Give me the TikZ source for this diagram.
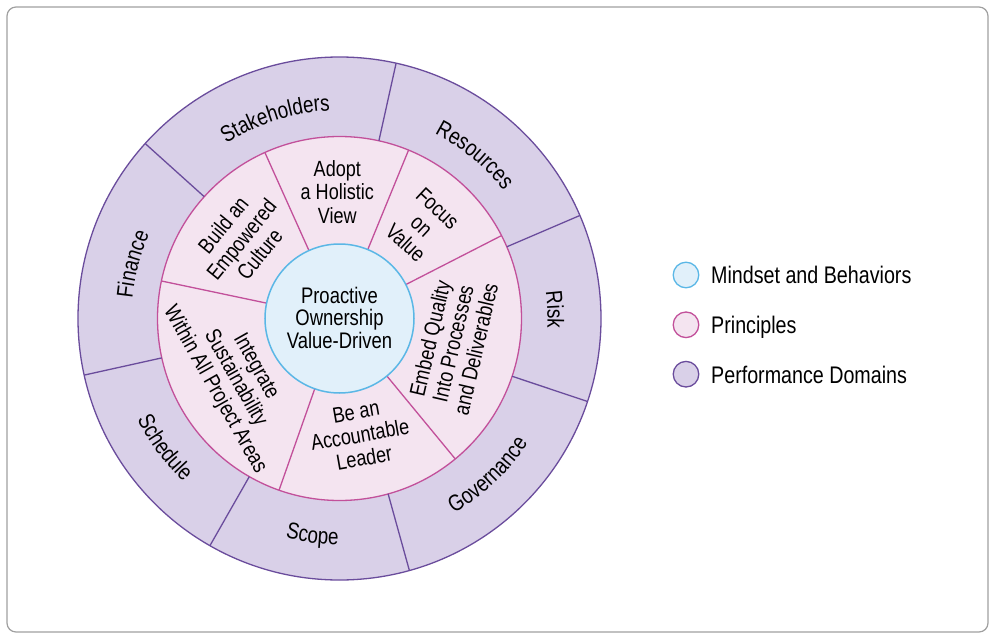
\documentclass[tikz,border=0pt]{standalone}
\usepackage{fontspec}
\setmainfont{Liberation Sans}[FakeStretch=0.82]
\usetikzlibrary{decorations.text}
\definecolor{pdfill}{HTML}{D9D0E8}
\definecolor{pdline}{HTML}{6A4C9C}
\definecolor{prfill}{HTML}{F4E4F0}
\definecolor{prline}{HTML}{C2509A}
\definecolor{mbfill}{HTML}{E1F0FA}
\definecolor{mbline}{HTML}{5AB7E6}
\definecolor{framegray}{HTML}{A0A0A0}
\newcommand\outerfont{\fontsize{23}{25}\selectfont}
\begin{document}
\begin{tikzpicture}[x=1pt,y=1pt,
  ptext/.style={align=center, font=\fontsize{22}{23.5}\selectfont, inner sep=0pt},
  ctext/.style={align=center, font=\fontsize{22.5}{22.5}\selectfont, inner sep=0pt},
  legtext/.style={font=\fontsize{24}{26}\selectfont, inner sep=0pt, anchor=base west},
  legdot/.style={circle, minimum size=25.6pt, inner sep=0pt, line width=1.3pt},
  pdring/.style={draw=pdline, line width=1.3pt},
  prring/.style={draw=prline, line width=1.3pt},
  cwlabel/.style={decorate, decoration={text along path, text align=center, text={|\outerfont|#1}}},
  ccwlabel/.style={decorate, decoration={text along path, text align=center, text={|\outerfont|#1}}}
  ]
\useasboundingbox (-339.5,-319.5) rectangle (653.5,318.5);
\draw[framegray, line width=1.2pt, rounded corners=9pt] (-332.5,-313.5) rectangle (648.5,311.5);
% rings
\draw[pdring, fill=pdfill] (0,0) circle[radius=261.5];
\draw[prring, fill=prfill] (0,0) circle[radius=182];
\foreach \a in {77.5,23.2,-18.5,-74.5,-119.7,192.5,138}
  \draw[pdring] (\a:182) -- (\a:261.5);
\foreach \a in {114.2,67.7,27.1,-50.5,-109.4,168.1}
  \draw[prring] (\a:74.5) -- (\a:182);
\draw[draw=mbline, line width=1.5pt, fill=mbfill] (0,0) circle[radius=74.5];
% centre
\node[ctext] (core) at (0,1) {Proactive\\Ownership\\Value-Driven};
% principles
\node[ptext, rotate=51] (build) at (141.2:126) {Build an\\Empowered\\Culture};
\node[ptext] (adopt) at (91:126.5) {Adopt\\a Holistic\\View};
\node[ptext, rotate=-43] (focus) at (48.5:124) {Focus\\on\\Value};
\node[ptext, rotate=77] (embed) at (-12.5:116) {Embed Quality\\Into Processes\\and Deliverables};
\node[ptext, rotate=10] (leader) at (-80:118.3) {Be an\\Accountable\\Leader};
\node[ptext, rotate=-60.6] (integ) at (209.8:120.4) {Integrate\\Sustainability\\Within All Project Areas};
% performance domains (text along arcs)
\path[cwlabel={Stakeholders}] (138:208) arc[start angle=138, end angle=77.5, radius=208];
\path[cwlabel={Resources}] (77.5:208) arc[start angle=77.5, end angle=23.2, radius=208];
\path[cwlabel={Risk}] (23.2:208) arc[start angle=23.2, end angle=-18.5, radius=208];
\path[cwlabel={Finance}] (192.5:208) arc[start angle=192.5, end angle=138, radius=208];
\path[ccwlabel={Governance}] (-74.5:226) arc[start angle=-74.5, end angle=-18.5, radius=226];
\path[ccwlabel={Scope}] (-119.7:226) arc[start angle=-119.7, end angle=-74.5, radius=226];
\path[ccwlabel={Schedule}] (-167.5:226) arc[start angle=-167.5, end angle=-119.7, radius=226];
% legend
\node[legdot, draw=mbline, fill=mbfill] (lg1) at (346.5,43.5) {};
\node[legdot, draw=prline, fill=prfill] (lg2) at (346.5,-6.3) {};
\node[legdot, draw=pdline, fill=pdfill] (lg3) at (346.5,-55.7) {};
\node[legtext] (lt1) at (371.5,34.7) {Mindset and Behaviors};
\node[legtext] (lt2) at (371.5,-15.1) {Principles};
\node[legtext] (lt3) at (371.5,-64.5) {Performance Domains};
\end{tikzpicture}
\end{document}
